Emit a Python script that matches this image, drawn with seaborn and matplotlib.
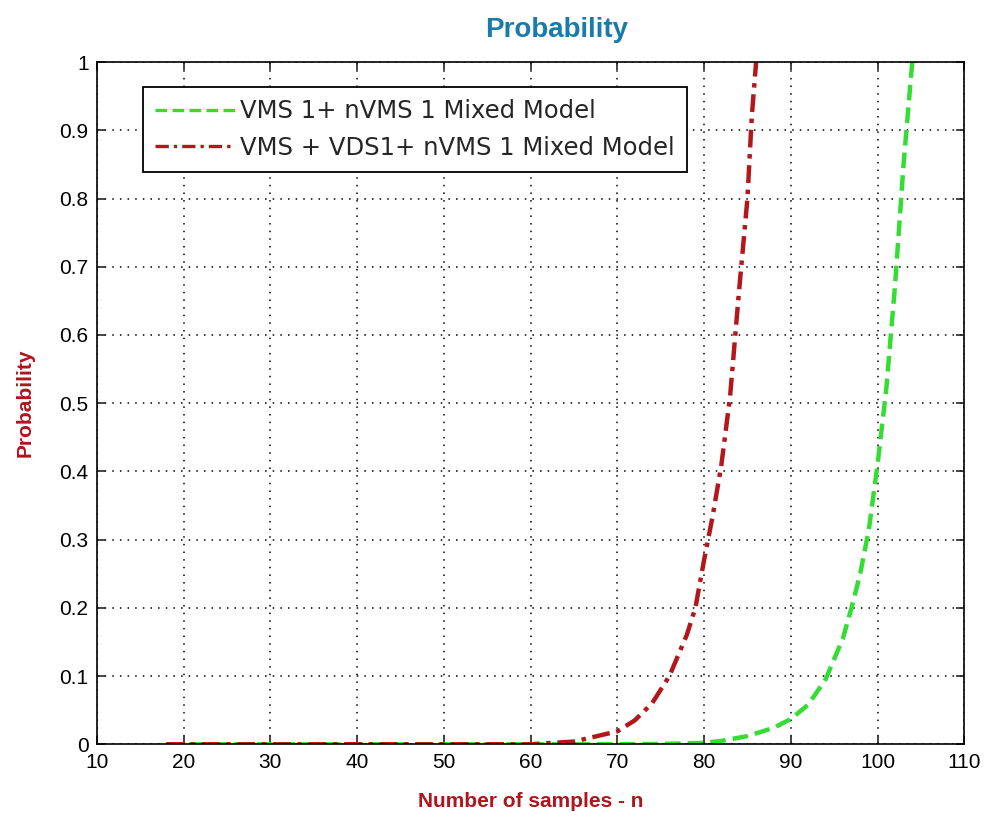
import pandas as pd
import matplotlib
matplotlib.use("Agg")
import matplotlib.pyplot as plt
import seaborn as sns

# values
n_green = [18, 30, 40, 50, 60, 65, 70, 75, 80, 82, 85, 88, 90, 92, 94, 96, 97, 98, 99, 100, 101, 102, 103, 104]
p_green = [0, 0, 0, 0, 0, 0, 0, 0.0005, 0.002, 0.005, 0.012, 0.024, 0.037, 0.058, 0.095, 0.155, 0.2,
           0.25, 0.315, 0.41, 0.52, 0.67, 0.85, 1.0]

n_red = [18, 30, 40, 50, 60, 65, 67, 70, 72, 74, 76, 78, 79, 80, 81, 82, 83, 84, 85, 85.5, 86]
p_red = [0, 0, 0, 0, 0, 0.004, 0.01, 0.019, 0.035, 0.06, 0.1, 0.16, 0.2, 0.27, 0.335, 0.41, 0.51,
         0.66, 0.8, 0.92, 1.0]

label_green = "VMS 1+ nVMS 1 Mixed Model"
label_red = "VMS + VDS1+ nVMS 1 Mixed Model"

x_ticks = list(range(10, 111, 10))
y_ticks = [0, 0.1, 0.2, 0.3, 0.4, 0.5, 0.6, 0.7, 0.8, 0.9, 1]
y_ticklabels = ["0", "0.1", "0.2", "0.3", "0.4", "0.5", "0.6", "0.7", "0.8", "0.9", "1"]

green_df = pd.DataFrame({"n": n_green, "p": p_green})
red_df = pd.DataFrame({"n": n_red, "p": p_red})

sns.set_style("ticks")
plt.rcParams['font.family'] = ['Liberation Sans', 'DejaVu Sans']

fig = plt.figure(figsize=(9.89, 8.17), dpi=100)
ax = fig.add_axes([0.098, 0.089, 0.877, 0.835])

sns.lineplot(data=green_df, x="n", y="p", ax=ax, color="#33dd33", linewidth=3.2,
             linestyle=(0, (3.5, 1.6)), label=label_green)
sns.lineplot(data=red_df, x="n", y="p", ax=ax, color="#b3161b", linewidth=3.2,
             linestyle=(0, (4, 1.5, 1, 1.5)), label=label_red)

ax.set_xlim(10, 110)
ax.set_ylim(0, 1)
ax.set_xticks(x_ticks)
ax.set_yticks(y_ticks)
ax.set_yticklabels(y_ticklabels)
ax.tick_params(direction="in", top=True, right=True, labelsize=15, labelcolor="black",
               length=6, width=1.2, pad=6)
ax.grid(True, color="black", linestyle=(0, (1, 4)), linewidth=1.1)
for s in ax.spines.values():
    s.set_linewidth(1.2)
    s.set_color("black")

ax.set_title("Probability", fontsize=20, fontweight="bold", color="#1a7aaa", pad=18, x=0.53)
ax.set_xlabel("Number of samples - n", fontsize=15, fontweight="bold", color="#b0141c", labelpad=15)
ax.set_ylabel("Probability", fontsize=15, fontweight="bold", color="#b0141c", labelpad=18)

leg = ax.legend(loc="upper left", bbox_to_anchor=(0.053, 0.963), frameon=True,
                prop={"family": "DejaVu Sans", "size": 17.5},
                fancybox=False, edgecolor="black", framealpha=1, handlelength=3.3,
                borderpad=0.5, labelspacing=0.5, handletextpad=0.2, borderaxespad=0)
leg.get_frame().set_linewidth(1.3)
for h in leg.get_lines():
    h.set_linewidth(2.4)

fig.savefig("out.png", dpi=100)
